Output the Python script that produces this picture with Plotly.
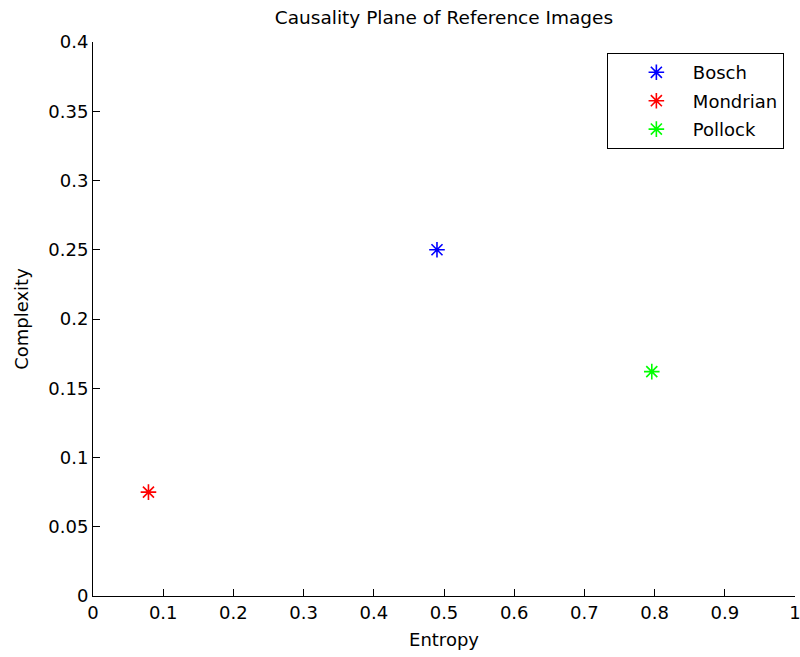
import plotly.graph_objects as go

names = ["Bosch", "Mondrian", "Pollock"]
entropy = [0.49, 0.079, 0.796]
complexity = [0.25, 0.075, 0.162]
colors = ["#0000FF", "#FF0000", "#00FF00"]

x_ticks = [0, 0.1, 0.2, 0.3, 0.4, 0.5, 0.6, 0.7, 0.8, 0.9, 1]
x_labels = ["0", "0.1", "0.2", "0.3", "0.4", "0.5", "0.6", "0.7", "0.8", "0.9", "1"]
y_ticks = [0, 0.05, 0.1, 0.15, 0.2, 0.25, 0.3, 0.35, 0.4]
y_labels = ["0", "0.05", "0.1", "0.15", "0.2", "0.25", "0.3", "0.35", "0.4"]

FONT = "DejaVu Sans"
FS = 18

fig = go.Figure()
for n, xv, yv, c in zip(names, entropy, complexity, colors):
    fig.add_trace(go.Scatter(
        x=[xv], y=[yv], mode="markers", name=n, legendgroup=n,
        marker=dict(symbol="asterisk-open", size=13, color=c,
                    line=dict(color=c, width=1.6)),
    ))

axis_common = dict(
    showgrid=False, zeroline=False, showline=True, linecolor="black",
    linewidth=1, ticks="inside", ticklen=7, tickcolor="black",
    tickfont=dict(family=FONT, size=FS, color="black"), mirror=False,
    automargin=False, ticklabeloverflow="allow",
)

fig.update_layout(
    width=800, height=657,
    margin=dict(l=93, r=5, t=42, b=61),
    paper_bgcolor="white", plot_bgcolor="white",
    title=dict(text="Causality Plane of Reference Images", xref="paper", x=0.5,
               xanchor="center", yref="container", y=1 - 18 / 657, yanchor="middle",
               font=dict(family=FONT, size=18.5, color="black")),
    xaxis=dict(range=[0, 1], tickvals=x_ticks, ticktext=x_labels,
               title=dict(text="Entropy", standoff=11,
                          font=dict(family=FONT, size=FS, color="black")),
               **axis_common),
    yaxis=dict(range=[0, 0.4], tickvals=y_ticks, ticktext=y_labels,
               title=dict(text="Complexity", standoff=15,
                          font=dict(family=FONT, size=FS, color="black")),
               **axis_common),
    legend=dict(x=0.732, y=0.98, xanchor="left", yanchor="top",
                bordercolor="black", borderwidth=1, bgcolor="white",
                font=dict(family=FONT, size=FS, color="black"),
                indentation=12, itemwidth=63, tracegroupgap=2),
    showlegend=True,
)

fig.write_html("out.html", config={"displayModeBar": False},
               post_script="document.body.style.margin='0';document.body.style.padding='0';")
